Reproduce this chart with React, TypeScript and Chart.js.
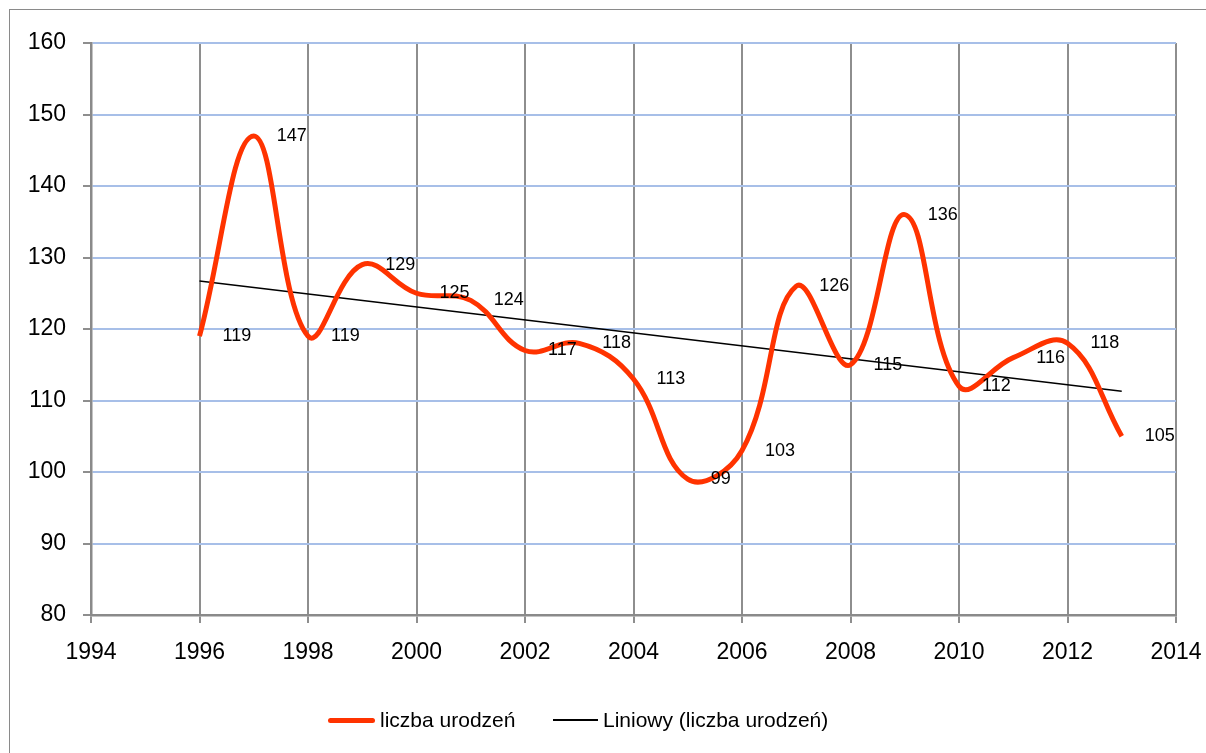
import React, { useEffect, useRef } from "react";
import { Chart, registerables } from "chart.js";

Chart.register(...registerables);

const years = [1996, 1997, 1998, 1999, 2000, 2001, 2002, 2003, 2004, 2005, 2006, 2007, 2008, 2009, 2010, 2011, 2012, 2013];
const births = [119, 147, 119, 129, 125, 124, 117, 118, 113, 99, 103, 126, 115, 136, 112, 116, 118, 105];
const trendYears = [1996, 2013];
const trendValues = [126.7, 111.3];
const seriesName = "liczba urodzeń";
const trendName = "Liniowy (liczba urodzeń)";

const FONT = "'Liberation Sans', Arial, sans-serif";

const labelPlugin = {
  id: "pointLabels",
  afterDatasetsDraw(chart: any) {
    const meta = chart.getDatasetMeta(0);
    const ctx = chart.ctx;
    ctx.save();
    ctx.font = `18px ${FONT}`;
    ctx.fillStyle = "#000";
    ctx.textAlign = "left";
    ctx.textBaseline = "middle";
    meta.data.forEach((p: any, i: number) => {
      ctx.fillText(String(births[i]), p.x + 23, p.y);
    });
    ctx.restore();
  },
};

export default function App() {
  const ref = useRef<HTMLCanvasElement>(null);
  useEffect(() => {
    const chart = new Chart(ref.current!, {
      type: "line",
      data: {
        datasets: [
          {
            label: seriesName,
            data: years.map((x, i) => ({ x, y: births[i] })),
            borderColor: "#ff3300",
            borderWidth: 5,
            pointRadius: 0,
            tension: 0.4,
            fill: false,
          },
          {
            label: trendName,
            data: trendYears.map((x, i) => ({ x, y: trendValues[i] })),
            borderColor: "#000",
            borderWidth: 1.5,
            pointRadius: 0,
            tension: 0,
            fill: false,
          },
        ],
      },
      options: {
        animation: false,
        responsive: false,
        layout: { padding: { left: 0, top: 43, right: 30, bottom: 0 } },
        plugins: { legend: { display: false }, tooltip: { enabled: false } },
        scales: {
          x: {
            type: "linear",
            min: 1994,
            max: 2014,
            afterFit: (s: any) => {
              s.height = 138;
              s.paddingLeft = 0;
              s.paddingRight = 0;
            },
            ticks: {
              stepSize: 2,
              padding: 16,
              color: "#000",
              font: { family: FONT, size: 23 },
              callback: (v: any) => String(v),
              maxRotation: 0,
            },
            grid: { color: "#8e8e8e", lineWidth: 2, tickLength: 8, tickColor: "#8e8e8e" },
            border: { color: "#8a8a8a", width: 2.5 },
          },
          y: {
            min: 80,
            max: 160,
            afterFit: (s: any) => {
              s.width = 91;
              s.paddingTop = 0;
              s.paddingBottom = 0;
            },
            ticks: {
              stepSize: 10,
              padding: 17,
              color: "#000",
              font: { family: FONT, size: 23 },
            },
            grid: { color: "#a7bfe8", lineWidth: 2, tickLength: 8, tickColor: "#8e8e8e" },
            border: { color: "#8a8a8a", width: 2.5 },
          },
        },
      },
      plugins: [labelPlugin],
    } as any);
    return () => chart.destroy();
  }, []);

  return (
    <div style={{ position: "fixed", left: 0, top: 0, width: 1206, height: 753, background: "#fff", overflow: "hidden" }}>
      <div
        style={{
          position: "absolute",
          left: 9,
          top: 9,
          right: 0,
          bottom: 0,
          borderTop: "1px solid #8a8a8a",
          borderLeft: "1px solid #8a8a8a",
        }}
      />
      <canvas ref={ref} width={1206} height={753} style={{ position: "absolute", left: 0, top: 0 }} />
      <div style={{ position: "absolute", left: 0, top: 706, width: 1206, height: 28, fontFamily: FONT, fontSize: 21, color: "#000" }}>
        <div style={{ position: "absolute", left: 328, top: 12, width: 47, height: 5, background: "#ff3300", borderRadius: 3 }} />
        <span style={{ position: "absolute", left: 380, top: 0, lineHeight: "28px", whiteSpace: "nowrap" }}>{seriesName}</span>
        <div style={{ position: "absolute", left: 553, top: 13, width: 45, height: 2, background: "#000" }} />
        <span style={{ position: "absolute", left: 603, top: 0, lineHeight: "28px", whiteSpace: "nowrap" }}>{trendName}</span>
      </div>
    </div>
  );
}
